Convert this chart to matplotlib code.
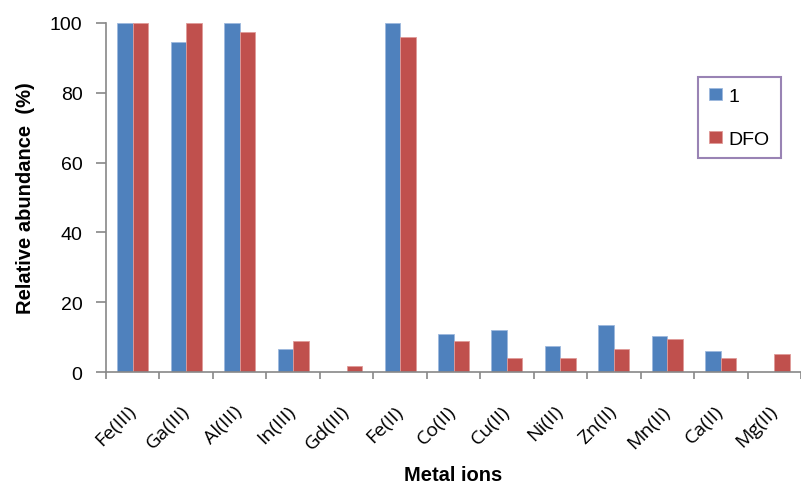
import matplotlib
matplotlib.use("Agg")
import matplotlib.pyplot as plt
from matplotlib.transforms import ScaledTranslation
import numpy as np

categories = ["Fe(III)", "Ga(III)", "Al(III)", "In(III)", "Gd(III)", "Fe(II)",
              "Co(II)", "Cu(II)", "Ni(II)", "Zn(II)", "Mn(II)", "Ca(II)", "Mg(II)"]
series_1 = [100, 94.5, 100, 6.6, 0, 100, 10.9, 12.0, 7.5, 13.5, 10.4, 6.1, 0]
series_dfo = [100, 100, 97.5, 9.0, 1.6, 96.0, 9.0, 4.1, 4.1, 6.6, 9.5, 4.1, 5.1]
yticks = [0, 20, 40, 60, 80, 100]

plt.rcParams["font.family"] = ["Liberation Sans", "DejaVu Sans"]

fig = plt.figure(figsize=(8.01, 4.85), dpi=100)
ax = fig.add_axes([106 / 801, 1 - 373 / 485, (801 - 106) / 801, (373 - 24) / 485])

x = np.arange(len(categories))
w = 0.29
ax.bar(x - w / 2, series_1, width=w, color="#4F81BD", edgecolor="#9DB9DD",
       linewidth=0.6, label="1", zorder=2)
ax.bar(x + w / 2, series_dfo, width=w, color="#C0504D", edgecolor="#E09A98",
       linewidth=0.6, label="DFO", zorder=2)

ax.set_xlim(-0.5, len(categories) - 0.5)
ax.set_ylim(0, 100)
ax.set_yticks(yticks)
ax.set_yticklabels([str(v) for v in yticks], fontsize=14)

# ticks between categories, labels centered under each group
ax.set_xticks(np.arange(len(categories) + 1) - 0.5)
ax.set_xticklabels([])
ax.set_xticks(x, minor=True)
ax.set_xticklabels(categories, minor=True, rotation=45, ha="right", va="center",
                   rotation_mode="anchor", fontsize=14,
                   family=["Open Sans", "DejaVu Sans"])
shift = ScaledTranslation(0.07, 0, fig.dpi_scale_trans)
for lab in ax.get_xticklabels(minor=True):
    lab.set_transform(lab.get_transform() + shift)
ax.tick_params(axis="x", which="major", length=5, width=1.2, color="#888888", direction="out")
ax.tick_params(axis="x", which="minor", length=0, pad=26)
ax.tick_params(axis="y", length=7, width=1.2, color="#888888", pad=10)

for s in ["top", "right"]:
    ax.spines[s].set_visible(False)
for s in ["left", "bottom"]:
    ax.spines[s].set_color("#888888")
    ax.spines[s].set_linewidth(1.2)

ax.set_ylabel("Relative abundance  (%)", fontsize=14.5, fontweight="bold", va="center")
ax.yaxis.set_label_coords(-0.116, 0.5)
ax.set_xlabel("Metal ions", fontsize=14.5, fontweight="bold", va="center")
ax.xaxis.set_label_coords(0.5, -0.293)

leg = ax.legend(loc="upper left", bbox_to_anchor=((698 - 106) / 695, 1 - (78 - 24) / 349),
                frameon=True, fancybox=False, fontsize=14, handlelength=0.67,
                handleheight=0.62, handletextpad=0.36, labelspacing=1.32,
                borderpad=0.55, borderaxespad=0)
leg.get_frame().set_edgecolor("#8064A2")
leg.get_frame().set_linewidth(1.5)

fig.savefig("out.png", dpi=100)
